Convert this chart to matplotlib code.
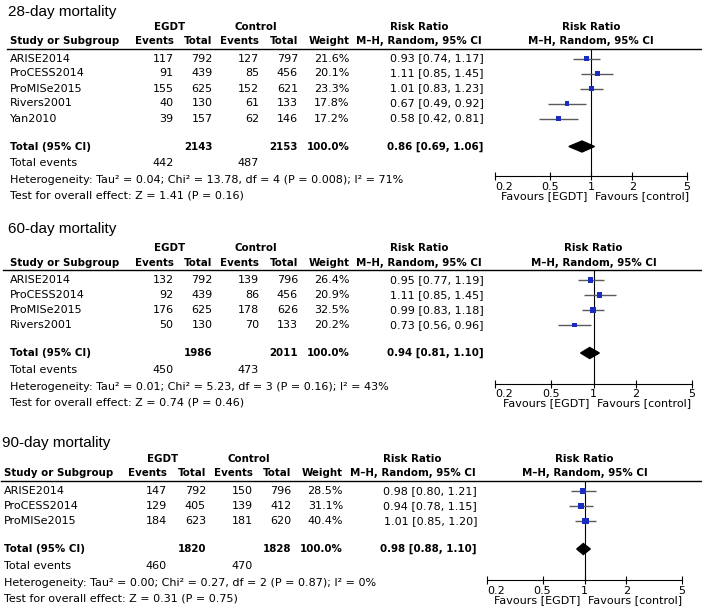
import numpy as np
import matplotlib
matplotlib.use("Agg")
import matplotlib.pyplot as plt
from matplotlib.patches import Polygon

# ---- data: 28-day mortality
studies_28 = ["ARISE2014", "ProCESS2014", "ProMISe2015", "Rivers2001", "Yan2010"]
egdt_ev_28 = [117, 91, 155, 40, 39]
egdt_n_28 = [792, 439, 625, 130, 157]
ctrl_ev_28 = [127, 85, 152, 61, 62]
ctrl_n_28 = [797, 456, 621, 133, 146]
weight_28 = [21.6, 20.1, 23.3, 17.8, 17.2]
rr_28 = [0.93, 1.11, 1.01, 0.67, 0.58]
lo_28 = [0.74, 0.85, 0.83, 0.49, 0.42]
hi_28 = [1.17, 1.45, 1.23, 0.92, 0.81]
total_28 = [2143, 2153, 442, 487]
pooled_28 = [0.86, 0.69, 1.06]
het_28 = ["0.04", "13.78", 4, "0.008", 71]
overall_28 = ["1.41", "0.16"]

# ---- data: 60-day mortality
studies_60 = ["ARISE2014", "ProCESS2014", "ProMISe2015", "Rivers2001"]
egdt_ev_60 = [132, 92, 176, 50]
egdt_n_60 = [792, 439, 625, 130]
ctrl_ev_60 = [139, 86, 178, 70]
ctrl_n_60 = [796, 456, 626, 133]
weight_60 = [26.4, 20.9, 32.5, 20.2]
rr_60 = [0.95, 1.11, 0.99, 0.73]
lo_60 = [0.77, 0.85, 0.83, 0.56]
hi_60 = [1.19, 1.45, 1.18, 0.96]
total_60 = [1986, 2011, 450, 473]
pooled_60 = [0.94, 0.81, 1.10]
het_60 = ["0.01", "5.23", 3, "0.16", 43]
overall_60 = ["0.74", "0.46"]

# ---- data: 90-day mortality
studies_90 = ["ARISE2014", "ProCESS2014", "ProMISe2015"]
egdt_ev_90 = [147, 129, 184]
egdt_n_90 = [792, 405, 623]
ctrl_ev_90 = [150, 139, 181]
ctrl_n_90 = [796, 412, 620]
weight_90 = [28.5, 31.1, 40.4]
rr_90 = [0.98, 0.94, 1.01]
lo_90 = [0.80, 0.78, 0.85]
hi_90 = [1.21, 1.15, 1.20]
total_90 = [1820, 1828, 460, 470]
pooled_90 = [0.98, 0.88, 1.10]
het_90 = ["0.00", "0.27", 2, "0.87", 0]
overall_90 = ["0.31", "0.75"]

ticks = [0.2, 0.5, 1, 2, 5]

W, H = 702, 609
FS = 8.0      # regular text
FSB = 7.35    # bold text (reference bold runs narrower)
BLUE = "#1b2cc0"
GREY = "#5a5a5a"

fig = plt.figure(figsize=(W / 100, H / 100), dpi=100)
bg = fig.add_axes([0, 0, 1, 1])
bg.set_xlim(0, W)
bg.set_ylim(H, 0)
bg.axis("off")


def txt(x, y, s, ha="right", bold=False, **kw):
    bg.text(x, y, s, ha=ha, va="center", fontsize=FSB if bold else FS,
            fontweight="bold" if bold else "normal", family="DejaVu Sans", **kw)


def panel(title, title_y, line_y, first_y, dx, ax_x0, ax_x1, ax_y, line_x0,
          studies, e_ev, e_n, c_ev, c_n, wt, rr, lo, hi, tot, pooled, het, overall):
    # column anchors (pixels)
    c_name = 10 + dx
    c_eev, c_en, c_cev, c_cn, c_w, c_rr = [v + dx for v in (173.5, 212.5, 259, 298, 349.5, 483.5)]
    rr_head = 419 + dx
    plot_head = (ax_x0 + ax_x1) / 2

    bg.text(c_name - 2, title_y, title, ha="left", va="center", fontsize=11,
            family="Liberation Sans")
    hy1, hy2 = line_y - 22, line_y - 7
    txt(169.5 + dx, hy1, "EGDT", ha="center", bold=True)
    txt(255.5 + dx, hy1, "Control", ha="center", bold=True)
    txt(rr_head, hy1, "Risk Ratio", ha="center", bold=True)
    txt(plot_head, hy1, "Risk Ratio", ha="center", bold=True)
    txt(c_name, hy2, "Study or Subgroup", ha="left", bold=True)
    for x, s in [(c_eev, "Events"), (c_en, "Total"), (c_cev, "Events"),
                 (c_cn, "Total"), (c_w, "Weight")]:
        txt(x, hy2, s, bold=True)
    txt(rr_head, hy2, "M\u2013H, Random, 95% CI", ha="center", bold=True)
    txt(plot_head, hy2, "M\u2013H, Random, 95% CI", ha="center", bold=True)
    bg.plot([line_x0, W], [line_y, line_y], color="black", lw=1.0)

    ys = first_y + 15 * np.arange(len(studies))
    for i, y in enumerate(ys):
        txt(c_name, y, studies[i], ha="left")
        txt(c_eev, y, str(e_ev[i]))
        txt(c_en, y, str(e_n[i]))
        txt(c_cev, y, str(c_ev[i]))
        txt(c_cn, y, str(c_n[i]))
        txt(c_w, y, f"{wt[i]:.1f}%")
        txt(c_rr, y, f"{rr[i]:.2f} [{lo[i]:.2f}, {hi[i]:.2f}]")

    ty = ys[-1] + 28
    txt(c_name, ty, "Total (95% CI)", ha="left", bold=True)
    txt(c_en, ty, str(tot[0]), bold=True)
    txt(c_cn, ty, str(tot[1]), bold=True)
    txt(c_w, ty, "100.0%", bold=True)
    txt(c_rr, ty, f"{pooled[0]:.2f} [{pooled[1]:.2f}, {pooled[2]:.2f}]", bold=True)
    txt(c_name, ty + 17, "Total events", ha="left")
    txt(c_eev, ty + 17, str(tot[2]))
    txt(c_cev, ty + 17, str(tot[3]))
    txt(c_name, ty + 33.5, f"Heterogeneity: Tau\u00b2 = {het[0]}; Chi\u00b2 = {het[1]}, "
        f"df = {het[2]} (P = {het[3]}); I\u00b2 = {het[4]}%", ha="left")
    txt(c_name, ty + 49.5, f"Test for overall effect: Z = {overall[0]} (P = {overall[1]})",
        ha="left")

    # forest axes, y data = pixel rows
    ax = fig.add_axes([ax_x0 / W, 1 - ax_y / H, (ax_x1 - ax_x0) / W, (ax_y - line_y) / H])
    ax.set_xscale("log")
    ax.set_xlim(0.2, 5)
    ax.set_ylim(ax_y, line_y)
    ax.patch.set_alpha(0)
    for s in ("top", "left", "right"):
        ax.spines[s].set_visible(False)
    ax.spines["bottom"].set_linewidth(0.8)
    ax.set_yticks([])
    ax.set_xticks(ticks)
    ax.set_xticklabels(["0.2", "0.5", "1", "2", "5"])
    ax.minorticks_off()
    ax.tick_params(axis="x", direction="inout", length=6, width=0.8, pad=1,
                   labelsize=FS)
    ax.get_xticklabels()[0].set_ha("left")
    ax.axvline(1, color="black", lw=0.8)
    ax.hlines(ys, lo, hi, color=GREY, lw=1.0)
    side = 1.1 * np.sqrt(np.array(wt)) * 0.72
    ax.scatter(rr, ys, marker="s", s=side ** 2, color=BLUE, zorder=3, linewidths=0)
    ax.add_patch(Polygon([(pooled[1], ty), (pooled[0], ty - 5.5), (pooled[2], ty),
                          (pooled[0], ty + 5.5)], closed=True, color="black", zorder=3))
    ax.set_clip_on(False)

    one = ax_x0 + (ax_x1 - ax_x0) * np.log(1 / 0.2) / np.log(25)
    fy = ax_y + 20
    txt(one - 47, fy, "Favours [EGDT]", ha="center")
    txt(one + 51, fy, "Favours [control]", ha="center")


panel("28-day mortality", 12, 48.5, 58.5, 0, 495, 687, 176, 7,
      studies_28, egdt_ev_28, egdt_n_28, ctrl_ev_28, ctrl_n_28, weight_28,
      rr_28, lo_28, hi_28, total_28, pooled_28, het_28, overall_28)
panel("60-day mortality", 229.5, 270, 280, 0, 495, 692, 383.5, 3,
      studies_60, egdt_ev_60, egdt_n_60, ctrl_ev_60, ctrl_n_60, weight_60,
      rr_60, lo_60, hi_60, total_60, pooled_60, het_60, overall_60)
panel("90-day mortality", 442.5, 480.5, 491, -6.5, 487, 682, 580, 1,
      studies_90, egdt_ev_90, egdt_n_90, ctrl_ev_90, ctrl_n_90, weight_90,
      rr_90, lo_90, hi_90, total_90, pooled_90, het_90, overall_90)

fig.savefig("out.png", dpi=100)
